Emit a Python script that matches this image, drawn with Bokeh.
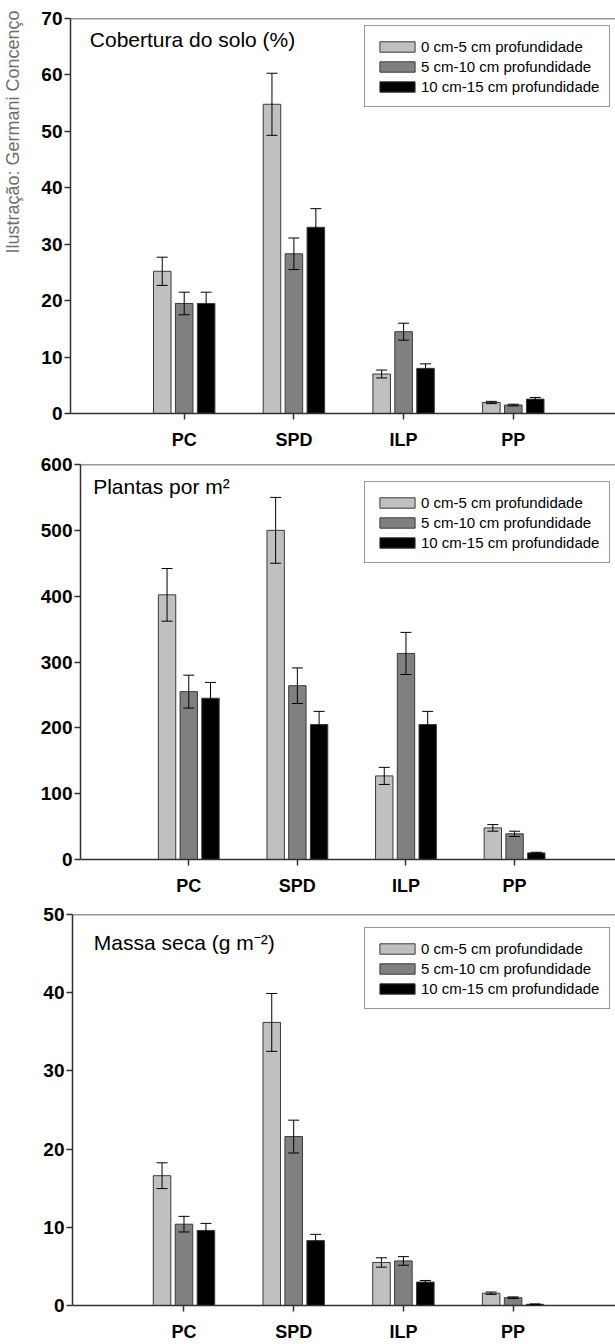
import numpy as np
from bokeh.plotting import figure
from bokeh.models import (ColumnDataSource, Whisker, TeeHead, Span, Label, Legend,
                          LegendItem, FixedTicker, Range1d)
from bokeh.layouts import column, row
from bokeh.transform import dodge
from bokeh.embed import file_html
from bokeh.resources import INLINE

# ---------------- data ----------------
categories = ["PC", "SPD", "ILP", "PP"]
series_names = ["0 cm-5 cm profundidade", "5 cm-10 cm profundidade", "10 cm-15 cm profundidade"]

# Cobertura do solo (%)
cob_0_5 = [25.2, 54.8, 7.0, 1.95]
cob_0_5_err = [2.5, 5.5, 0.7, 0.2]
cob_5_10 = [19.5, 28.3, 14.5, 1.5]
cob_5_10_err = [2.0, 2.8, 1.5, 0.15]
cob_10_15 = [19.5, 33.0, 8.0, 2.55]
cob_10_15_err = [2.0, 3.3, 0.8, 0.3]
cob_ticks = [0, 10, 20, 30, 40, 50, 60, 70]

# Plantas por m2
pla_0_5 = [402, 500, 127, 48]
pla_0_5_err = [40, 50, 13, 5]
pla_5_10 = [255, 264, 313, 39]
pla_5_10_err = [25, 27, 32, 4]
pla_10_15 = [245, 205, 205, 10]
pla_10_15_err = [24, 20, 20, 1]
pla_ticks = [0, 100, 200, 300, 400, 500, 600]

# Massa seca (g m-2)
mas_0_5 = [16.6, 36.2, 5.5, 1.57]
mas_0_5_err = [1.65, 3.7, 0.6, 0.15]
mas_5_10 = [10.4, 21.6, 5.7, 1.0]
mas_5_10_err = [1.0, 2.1, 0.55, 0.1]
mas_10_15 = [9.6, 8.3, 3.0, 0.15]
mas_10_15_err = [0.9, 0.8, 0.2, 0.05]
mas_ticks = [0, 10, 20, 30, 40, 50]

credit_text = "Ilustração: Germani Concenço"

# ---------------- style ----------------
COLORS = ["#c0c0c0", "#808080", "#000000"]
OFFSETS = [-0.2, 0.0, 0.2]
AX = "#303030"
FONT = "Liberation Sans"
PAGE_W = 615
FRAME_H = 395
CREDIT_W = 28
LEG_H = 80


def make_panel(title, vals, errs, ticks, frame_left, x_start, ppu,
               top, bottom, legend_dy, title_dx, title_dy, fig_left=0):
    ymax = ticks[-1]
    fig_w = PAGE_W - fig_left
    border_left = frame_left - fig_left
    frame_w = fig_w - border_left
    x_end = x_start + frame_w / ppu
    p = figure(width=fig_w, height=top + FRAME_H + bottom, output_backend="svg",
               toolbar_location=None, x_range=Range1d(x_start, x_end),
               y_range=Range1d(0, ymax), min_border_left=border_left,
               min_border_right=0, min_border_top=top, min_border_bottom=bottom)
    p.frame_align = False
    p.outline_line_color = None
    p.grid.visible = False
    p.background_fill_color = "white"
    p.border_fill_color = "white"

    data = dict(x=[1, 2, 3, 4], cat=categories)
    for i, (v, e) in enumerate(zip(vals, errs)):
        data[f"s{i}"] = v
        data[f"s{i}_hi"] = [a + b for a, b in zip(v, e)]
        data[f"s{i}_lo"] = [a - b for a, b in zip(v, e)]
    src = ColumnDataSource(data)

    items = []
    for i in range(3):
        r = p.vbar(x=dodge("x", OFFSETS[i], range=p.x_range), top=f"s{i}", bottom=0,
                   width=0.16, source=src, fill_color=COLORS[i],
                   line_color="#3a3a3a", line_width=1)
        items.append(LegendItem(label=series_names[i], renderers=[r]))
        w = Whisker(source=src, base=dodge("x", OFFSETS[i], range=p.x_range),
                    upper=f"s{i}_hi", lower=f"s{i}_lo", line_color="black",
                    line_width=1, level="overlay",
                    upper_head=TeeHead(size=11, line_color="black", line_width=1),
                    lower_head=TeeHead(size=11, line_color="black", line_width=1))
        p.add_layout(w)

    legend = Legend(items=items,
                    location=(364 - frame_left, FRAME_H - legend_dy - LEG_H),
                    border_line_color=AX, border_line_width=1,
                    background_fill_color="white", background_fill_alpha=1,
                    label_text_font=FONT, label_text_font_size="15px",
                    label_text_color="black",
                    glyph_width=44, glyph_height=13, label_standoff=2,
                    label_height=20, padding=10, spacing=0, margin=0)
    p.add_layout(legend)

    # top frame line
    p.add_layout(Span(location=ymax, dimension="width", line_color=AX, line_width=1.5))

    ppy = FRAME_H / ymax
    p.add_layout(Label(x=x_start + title_dx / ppu, y=ymax - title_dy / ppy, text=title,
                       text_font=FONT, text_font_size="21px", text_color="black",
                       text_baseline="middle", text_align="left"))

    p.xaxis.ticker = FixedTicker(ticks=[1, 2, 3, 4])
    p.xaxis.major_label_overrides = {i + 1: c for i, c in enumerate(categories)}
    p.yaxis.ticker = FixedTicker(ticks=ticks)
    for ax in (p.xaxis[0], p.yaxis[0]):
        ax.axis_line_color = AX
        ax.axis_line_width = 1.5
        ax.major_tick_line_color = AX
        ax.major_tick_line_width = 1.5
        ax.major_tick_in = 0
        ax.major_tick_out = 6
        ax.minor_tick_line_color = None
        ax.major_label_text_font = FONT
        ax.major_label_text_font_style = "bold"
        ax.major_label_text_color = "black"
    p.xaxis.major_label_text_font_size = "18px"
    p.yaxis.major_label_text_font_size = "19px"
    p.xaxis.major_label_standoff = 10
    p.yaxis.major_label_standoff = 2
    return p


H1_TOP, H1_BOT = 18, 39
p1 = make_panel("Cobertura do solo (%)",
                [cob_0_5, cob_5_10, cob_10_15],
                [cob_0_5_err, cob_5_10_err, cob_10_15_err],
                cob_ticks, frame_left=70, x_start=-0.0365, ppu=109.7,
                top=H1_TOP, bottom=H1_BOT, legend_dy=9, title_dx=19.3, title_dy=21,
                fig_left=CREDIT_W)
p2 = make_panel("Plantas por m²",
                [pla_0_5, pla_5_10, pla_10_15],
                [pla_0_5_err, pla_5_10_err, pla_10_15_err],
                pla_ticks, frame_left=80, x_start=0.003, ppu=108.6,
                top=12, bottom=43, legend_dy=19, title_dx=12.7, title_dy=22)
p3 = make_panel("Massa seca (g m⁻²)",
                [mas_0_5, mas_5_10, mas_10_15],
                [mas_0_5_err, mas_5_10_err, mas_10_15_err],
                mas_ticks, frame_left=72, x_start=-0.0164, ppu=109.7,
                top=12, bottom=35, legend_dy=19, title_dx=21.3, title_dy=28)

# narrow strip on the left carrying the rotated credit text
H1 = H1_TOP + FRAME_H + H1_BOT
credit = figure(width=CREDIT_W, height=H1, output_backend="svg", toolbar_location=None,
                x_range=Range1d(0, CREDIT_W), y_range=Range1d(0, H1),
                x_axis_type=None, y_axis_type=None,
                min_border_left=0, min_border_right=0, min_border_top=0,
                min_border_bottom=0)
credit.frame_align = False
credit.outline_line_color = None
credit.grid.visible = False
credit.add_layout(Label(x=12, y=H1 - 253, text=credit_text, angle=np.pi / 2,
                        text_align="left", text_baseline="middle",
                        text_color="#6e6e6e", text_font=FONT, text_font_size="18px"))

layout = column(row(credit, p1, spacing=0), p2, p3, spacing=0)
open("out.html", "w").write(file_html(layout, INLINE))
